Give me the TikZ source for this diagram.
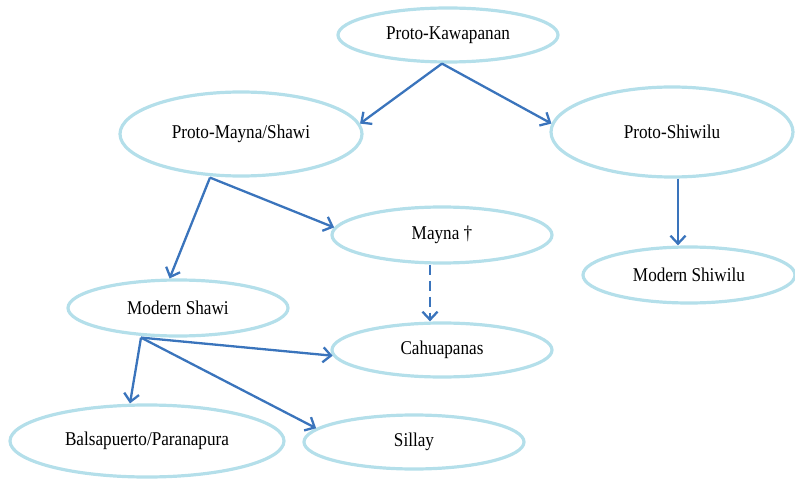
\documentclass[tikz,border=0pt]{standalone}
\usepackage{fontspec}
\setmainfont{Liberation Serif}[FakeStretch=0.88]
\usetikzlibrary{arrows.meta,shapes.geometric,calc}
\definecolor{ellcol}{HTML}{B4DFEA}
\definecolor{arrcol}{HTML}{3A74BC}
\begin{document}
\begin{tikzpicture}[x=1pt,y=-1pt,
  lang/.style={ellipse,draw=ellcol,line width=3.2pt,inner sep=0pt,
    font=\fontsize{19.5}{22}\selectfont,text=black},
  link/.style={draw=arrcol,line width=2.3pt,
    -{Straight Barb[length=8pt,width=15pt,line width=2.3pt]}},
  dlink/.style={link,dash pattern=on 10pt off 6pt}]
\useasboundingbox (0,0) rectangle (795,481);
\node[lang,minimum width=220pt,minimum height=54pt] (pk) at (448,35) {Proto-Kawapanan};
\node[lang,minimum width=242pt,minimum height=84pt] (pms) at (241,134) {Proto-Mayna/Shawi};
\node[lang,minimum width=242pt,minimum height=90pt] (ps) at (672,132) {Proto-Shiwilu};
\node[lang,minimum width=220pt,minimum height=56pt] (mayna) at (442,235) {Mayna †};
\node[lang,minimum width=212pt,minimum height=56pt] (msh) at (689,275) {Modern Shiwilu};
\node[lang,minimum width=220pt,minimum height=56pt] (ms) at (178,308) {Modern Shawi};
\node[lang,minimum width=220pt,minimum height=54pt] (cah) at (442,350) {Cahuapanas};
\node[lang,minimum width=274pt,minimum height=72pt] (bp) at (147,441) {Balsapuerto/Paranapura};
\node[lang,minimum width=220pt,minimum height=54pt] (sil) at (414,442) {Sillay};

\draw[link] ([xshift=-6pt]pk.south) -- (pms.5);
\draw[link] ([xshift=-6pt]pk.south) -- (ps.176);
\draw[link] ([xshift=-31pt]pms.south) -- (ms.106);
\draw[link] ([xshift=-31pt]pms.south) -- (mayna.176);
\draw[link] ([xshift=6pt]ps.south) -- ([xshift=-11pt]msh.north);
\draw[dlink] ([xshift=-12pt]mayna.south) -- ([xshift=-12pt]cah.north);
\draw[link] ([xshift=-37pt]ms.south) -- (cah.183);
\draw[link] ([xshift=-37pt]ms.south) -- ([xshift=-17pt]bp.north);
\draw[link] ([xshift=-37pt]ms.south) -- (sil.172);
\end{tikzpicture}
\end{document}
